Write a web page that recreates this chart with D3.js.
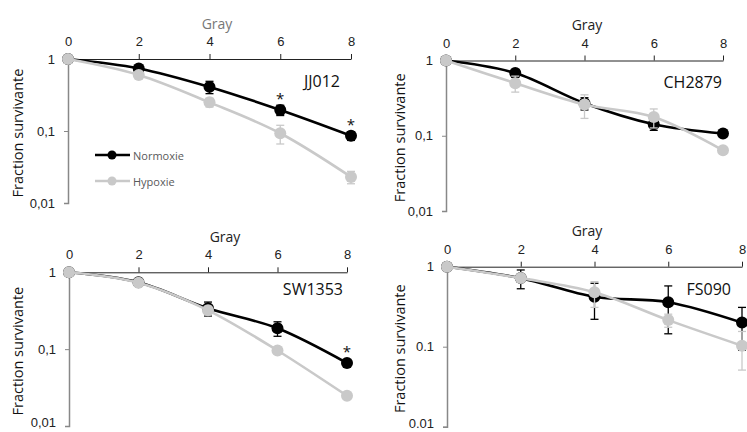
<!DOCTYPE html>
<html><head><meta charset="utf-8">
<script src="https://cdn.jsdelivr.net/npm/d3@7"></script>
<style>
html,body{margin:0;padding:0;background:#fff;}
svg{display:block;font-family:"Open Sans","Noto Sans",sans-serif;}
</style></head>
<body><svg id="chart" width="747" height="432"></svg>
<script>
// ---------- data ----------
const doses = [0, 2, 4, 6, 8];
const xTickValues = [0, 2, 4, 6, 8];
const yTickValues = [1, 0.1, 0.01];
const cellLines = ["JJ012", "CH2879", "SW1353", "FS090"];
const seriesNames = ["Normoxie", "Hypoxie"];
const normoxie = [
  [1, 0.74, 0.41, 0.196, 0.086],
  [1, 0.68, 0.27, 0.142, 0.107],
  [1, 0.74, 0.34, 0.187, 0.066],
  [1, 0.72, 0.42, 0.36, 0.20]
];
const normoxieErr = [
  [0, 0.03, 0.08, 0.032, 0.012],
  [0, 0.08, 0.05, 0.024, 0],
  [0, 0.02, 0.07, 0.04, 0.004],
  [0, 0.19, 0.20, 0.215, 0.11]
];
const hypoxie = [
  [1, 0.60, 0.25, 0.093, 0.023],
  [1, 0.50, 0.26, 0.177, 0.064],
  [1, 0.73, 0.32, 0.096, 0.0247],
  [1, 0.72, 0.48, 0.215, 0.103]
];
const hypoxieErr = [
  [0, 0.05, 0.035, 0.027, 0.0045],
  [0, 0.12, 0.09, 0.05, 0],
  [0, 0.02, 0.04, 0.005, 0.002],
  [0, 0.05, 0.17, 0.04, 0.052]
];
const significance = [[6, 8], [], [8], []];
const yTickLabels = [
  ["1", "0,1", "0,01"],
  ["1", "0,1", "0,01"],
  ["1", "0,1", "0,01"],
  ["1", "0.1", "0.01"]
];
const xTitle = "Gray";
const yTitle = "Fraction survivante";

// ---------- layout ----------
const panels = [
  {x0: 68,  x1: 351, yTop: 59,    yBot: 203,   titleX: 217, titleColor: "#777", labelX: 340, labelY: 81, legend: true, yTitleX: 17},
  {x0: 446, x1: 723, yTop: 60.5,  yBot: 211,   titleX: 587, titleColor: "#222", labelX: 722, labelY: 82, legend: false, yTitleX: 399},
  {x0: 69,  x1: 347, yTop: 272.3, yBot: 426,   titleX: 225, titleColor: "#222", labelX: 343, labelY: 289, legend: false, yTitleX: 17},
  {x0: 447, x1: 742, yTop: 266.7, yBot: 426.7, titleX: 587, titleColor: "#222", labelX: 731, labelY: 289, legend: false, yTitleX: 399}
];
const colors = {Normoxie: "#000000", Hypoxie: "#c9c9c9"};

const svg = d3.select("#chart");

panels.forEach((p, i) => {
  const g = svg.append("g");
  const x = d3.scaleLinear().domain([0, 8]).range([p.x0, p.x1]);
  const y = d3.scaleLog().domain([1, 0.01]).range([p.yTop, p.yBot]);

  // y axis
  const yAxis = g.append("g").attr("transform", `translate(${p.x0},0)`)
    .call(d3.axisLeft(y).tickValues(yTickValues).tickSize(4).tickPadding(9)
      .tickFormat((d, k) => yTickLabels[i][k]));
  yAxis.select(".domain").attr("stroke", "#888").attr("stroke-width", 1.5);
  yAxis.selectAll(".tick line").attr("stroke", "#888");
  yAxis.selectAll(".tick text").attr("font-size", 13).attr("fill", "#222");
  // keep the lowest label inside the picture for the bottom panels
  if (p.yBot > 420) {
    yAxis.selectAll(".tick text").filter(d => d === 0.01).attr("dy", "0.05em");
  }

  // x axis (top)
  const xAxis = g.append("g").attr("transform", `translate(0,${p.yTop})`)
    .call(d3.axisTop(x).tickValues(xTickValues).tickSize(5).tickSizeOuter(0).tickPadding(8));
  xAxis.select(".domain").attr("stroke", "#222").attr("stroke-width", 1);
  xAxis.selectAll(".tick line").attr("stroke", "#222");
  xAxis.selectAll(".tick text").attr("font-size", 13).attr("fill", "#222");

  g.append("text").attr("x", p.titleX).attr("y", p.yTop - 36)
    .attr("text-anchor", "middle").attr("dominant-baseline", "central")
    .attr("font-size", 14).attr("fill", p.titleColor).text(xTitle);

  g.append("text")
    .attr("transform", `translate(${p.yTitleX},${(p.yTop + p.yBot) / 2 + 2}) rotate(-90)`)
    .attr("text-anchor", "middle").attr("dominant-baseline", "central")
    .attr("font-size", 14.5).attr("fill", "#111").text(yTitle);

  g.append("text").attr("x", p.labelX).attr("y", p.labelY)
    .attr("text-anchor", "end").attr("dominant-baseline", "central")
    .attr("font-size", 16).attr("fill", "#111").text(cellLines[i]);

  const series = [
    {name: "Normoxie", vals: normoxie[i], errs: normoxieErr[i]},
    {name: "Hypoxie", vals: hypoxie[i], errs: hypoxieErr[i]}
  ];
  const line = d3.line().x(d => x(d.dose)).y(d => y(d.v)).curve(d3.curveCatmullRom.alpha(0));

  series.forEach(s => {
    const pts = doses.map((d, k) => ({dose: d, v: s.vals[k], e: s.errs[k]}));
    const c = colors[s.name];
    const sg = g.append("g");
    sg.append("path").datum(pts).attr("d", line).attr("fill", "none")
      .attr("stroke", c).attr("stroke-width", 2.6);
    const eb = sg.selectAll(".eb").data(pts.filter(d => d.e > 0)).enter().append("g");
    eb.append("line").attr("x1", d => x(d.dose)).attr("x2", d => x(d.dose))
      .attr("y1", d => y(d.v + d.e)).attr("y2", d => y(Math.max(d.v - d.e, 0.0011)))
      .attr("stroke", c).attr("stroke-width", 1.3);
    [1, -1].forEach(sign => {
      eb.append("line").attr("x1", d => x(d.dose) - 4).attr("x2", d => x(d.dose) + 4)
        .attr("y1", d => y(sign > 0 ? d.v + d.e : d.v - d.e))
        .attr("y2", d => y(sign > 0 ? d.v + d.e : d.v - d.e))
        .attr("stroke", c).attr("stroke-width", 1.3);
    });
    sg.selectAll("circle").data(pts).enter().append("circle")
      .attr("cx", d => x(d.dose)).attr("cy", d => y(d.v)).attr("r", 6).attr("fill", c);
  });

  // significance stars
  significance[i].forEach(dose => {
    const k = doses.indexOf(dose);
    g.append("text").attr("x", x(dose)).attr("y", y(normoxie[i][k]) - 6)
      .attr("text-anchor", "middle").attr("font-size", 15).attr("fill", "#111").text("*");
  });

  if (p.legend) {
    const items = [{name: "Normoxie", y: 155}, {name: "Hypoxie", y: 181}];
    const lg = g.append("g");
    items.forEach(it => {
      lg.append("line").attr("x1", 95).attr("x2", 130).attr("y1", it.y).attr("y2", it.y)
        .attr("stroke", colors[it.name]).attr("stroke-width", 2.6);
      lg.append("circle").attr("cx", 112).attr("cy", it.y).attr("r", 4.5).attr("fill", colors[it.name]);
      lg.append("text").attr("x", 133).attr("y", it.y).attr("dominant-baseline", "central")
        .attr("font-size", 11).attr("fill", "#595959").text(it.name);
    });
  }
});
</script></body></html>
